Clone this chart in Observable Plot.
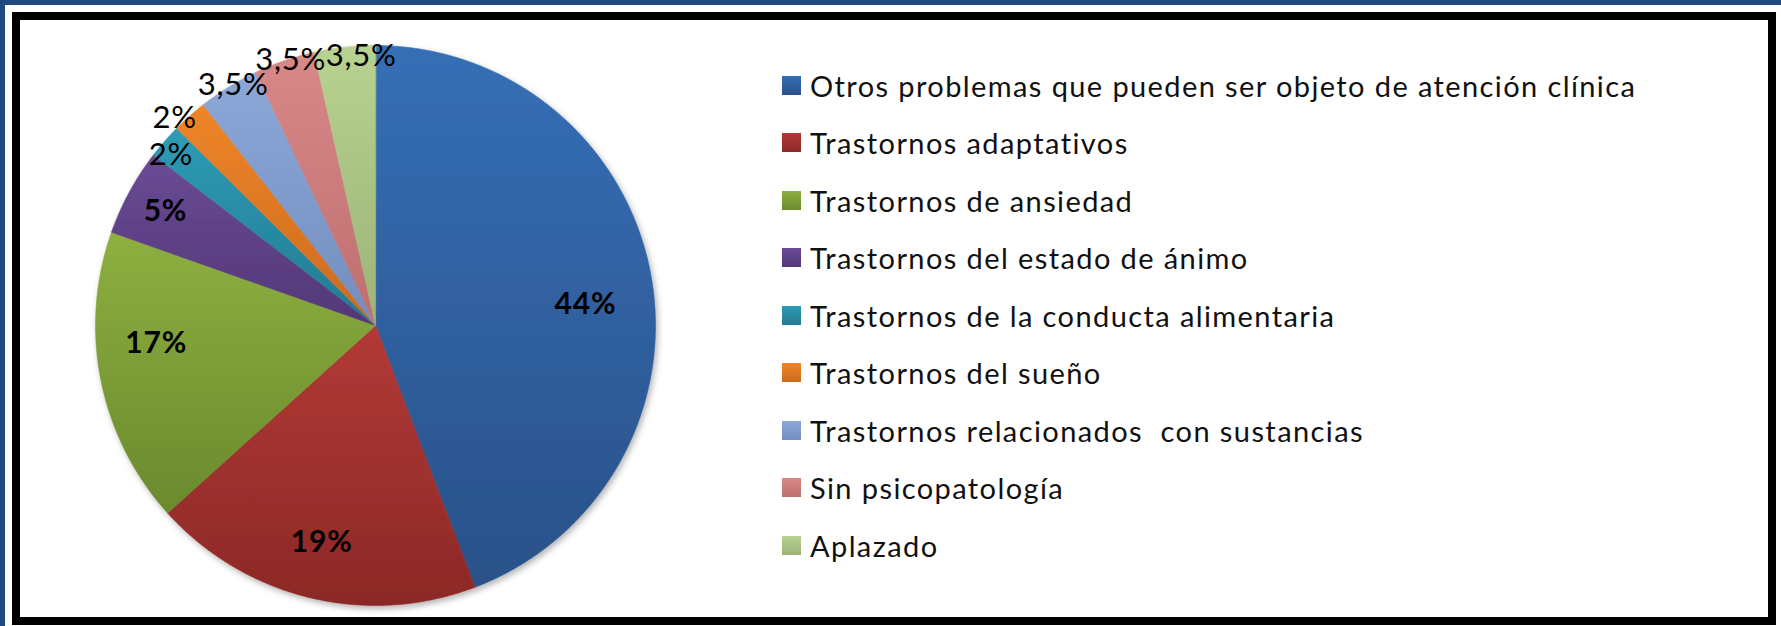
<!DOCTYPE html>
<html><head><meta charset="utf-8">
<script src="https://cdn.jsdelivr.net/npm/d3@7"></script>
<script src="https://cdn.jsdelivr.net/npm/@observablehq/plot@0.6"></script>
<style>
html,body{margin:0;padding:0;background:#fff;width:1781px;height:626px;overflow:hidden;position:relative;font-family:Lato,"Open Sans",sans-serif}
#topbar{position:absolute;left:0;top:0;width:1781px;height:5px;background:#1F497D}
#leftbar{position:absolute;left:0;top:0;width:5px;height:626px;background:#1F497D}
#frame{position:absolute;left:12px;top:12px;width:1764px;height:613px;border:8px solid #000;box-sizing:border-box}
#chart{position:absolute;left:0;top:0}
#legend{position:absolute;left:782px;top:0}
.item{position:absolute;left:0;display:flex;align-items:center;white-space:pre;font-size:29px;letter-spacing:1.4px;color:#111;height:30px}
.sw{width:19px;height:19px;margin-right:9px;flex:none}
</style></head>
<body>
<div id="topbar"></div><div id="leftbar"></div><div id="frame"></div>
<div id="chart"></div>
<div id="legend"></div>
<script>
const categories = [
  "Otros problemas que pueden ser objeto de atención clínica",
  "Trastornos adaptativos",
  "Trastornos de ansiedad",
  "Trastornos del estado de ánimo",
  "Trastornos de la conducta alimentaria",
  "Trastornos del sueño",
  "Trastornos relacionados  con sustancias",
  "Sin psicopatología",
  "Aplazado"
];
const values = [44, 19, 17, 5, 2, 2, 3.5, 3.5, 3.5];
const labels = ["44%", "19%", "17%", "5%", "2%", "2%", "3,5%", "3,5%", "3,5%"];
const labelBold = [true, true, true, true, false, false, false, false, false];
// label placement (layout only): distance from centre and small angular nudge in degrees
const labelRadius = [211, 223, 220, 239, 266, 289, 279, 279, 270];
const labelNudge = [4.7, 0.4, 6.6, 0, -1.4, -2.4, 1.0, 1.3, 3.3];
const colorsTop = ["#356FB6", "#B23A37", "#8EAF40", "#6A4A95", "#2E9BB5", "#EE8529", "#8BA8D8", "#D98888", "#B8D290"];
const colorsBottom = ["#2A5189", "#8C2826", "#6A8A2E", "#533878", "#237A92", "#CC6A1E", "#728EBE", "#BD6F6F", "#9BB378"];

const R = 280;
const arcs = d3.pie().sort(null).value(d => d)(values);

const pts = [];
arcs.forEach((a, i) => {
  pts.push({cat: i, x: 0, y: 0});
  const n = Math.max(2, Math.ceil((a.endAngle - a.startAngle) / 0.004));
  for (let k = 0; k <= n; k++) {
    const t = a.startAngle + (a.endAngle - a.startAngle) * k / n;
    pts.push({cat: i, x: R * Math.sin(t), y: -R * Math.cos(t)});
  }
});
const labelData = arcs.map((a, i) => {
  const m = (a.startAngle + a.endAngle) / 2 + labelNudge[i] * Math.PI / 180;
  return {text: labels[i], bold: labelBold[i], x: labelRadius[i] * Math.sin(m), y: -labelRadius[i] * Math.cos(m)};
});

const svg = Plot.plot({
  width: 760, height: 626,
  margin: 0,
  x: {domain: [-375, 385], range: [0, 760], axis: null},
  y: {domain: [-325, 301], range: [0, 626], axis: null},
  style: {fontFamily: "Lato, 'Open Sans', sans-serif", background: "transparent", overflow: "visible"},
  marks: [
    Plot.line(pts, {x: "x", y: "y", z: "cat", curve: "linear-closed",
      fill: d => `url(#g${d.cat})`, stroke: d => `url(#g${d.cat})`, strokeWidth: 0.6}),
    Plot.text(labelData.filter(d => d.bold), {x: "x", y: "y", text: "text", fontSize: 30, fontWeight: "bold", fill: "#000", textAnchor: "middle", lineAnchor: "middle"}),
    Plot.text(labelData.filter(d => !d.bold), {x: "x", y: "y", text: "text", fontSize: 31, fill: "#000", textAnchor: "middle", lineAnchor: "middle"})
  ]
});

const s = d3.select(svg);
const defs = s.insert("defs", ":first-child");
colorsTop.forEach((c, i) => {
  const g = defs.append("linearGradient").attr("id", "g" + i).attr("x1", 0).attr("y1", 0).attr("x2", 0).attr("y2", 1);
  g.append("stop").attr("offset", "0%").attr("stop-color", c);
  g.append("stop").attr("offset", "100%").attr("stop-color", colorsBottom[i]);
});
const f = defs.append("filter").attr("id", "shadow").attr("x", "-10%").attr("y", "-10%").attr("width", "120%").attr("height", "120%");
f.append("feDropShadow").attr("dx", 2).attr("dy", 3).attr("stdDeviation", 3).attr("flood-color", "#000").attr("flood-opacity", 0.3);
s.select("g[aria-label='line']").attr("filter", "url(#shadow)");
s.selectAll("text").attr("letter-spacing", "0.8px");
document.getElementById("chart").appendChild(svg);

const legend = document.getElementById("legend");
categories.forEach((c, i) => {
  const it = document.createElement("div");
  it.className = "item";
  it.style.top = (70 + i * 57.5) + "px";
  const sw = document.createElement("div");
  sw.className = "sw";
  sw.style.background = `linear-gradient(${colorsTop[i]}, ${colorsBottom[i]})`;
  const tx = document.createElement("span");
  tx.textContent = c;
  it.appendChild(sw); it.appendChild(tx);
  legend.appendChild(it);
});
</script>
</body></html>
